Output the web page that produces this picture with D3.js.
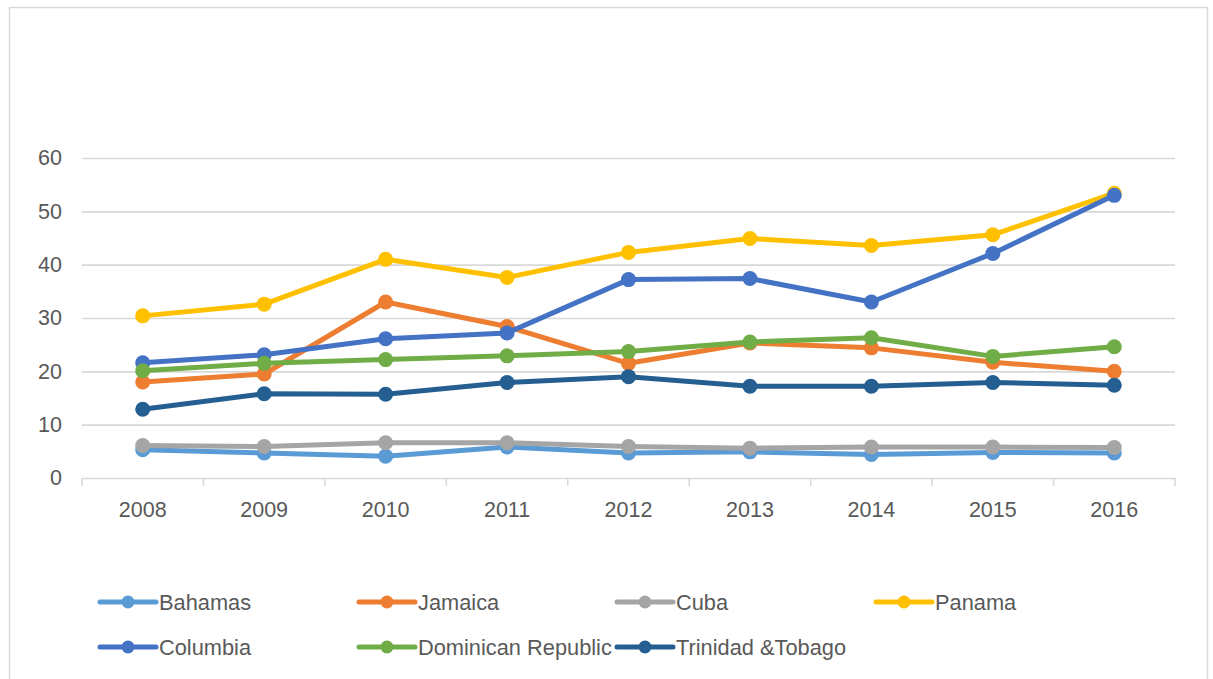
<!DOCTYPE html>
<html>
<head>
<meta charset="utf-8">
<script src="https://cdn.jsdelivr.net/npm/d3@7"></script>
<style>
  html, body { margin: 0; padding: 0; background: #fff; }
  svg { display: block; }
  text { font-family: "Liberation Sans", Arial, sans-serif; fill: #595959; }
</style>
</head>
<body>
<svg id="chart" width="1213" height="679"></svg>
<script>
// Years on the category axis
const years = ["2008", "2009", "2010", "2011", "2012", "2013", "2014", "2015", "2016"];
const yTicks = [0, 10, 20, 30, 40, 50, 60];

// Series names, in drawing order
const seriesNames = ["Bahamas", "Jamaica", "Cuba", "Panama", "Columbia", "Dominican Republic", "Trinidad &Tobago"];
const seriesColors = ["#5B9BD5", "#ED7D31", "#A5A5A5", "#FFC000", "#4472C4", "#70AD47", "#255E91"];

// Values per series, 2008–2016
const bahamas   = [5.3, 4.7, 4.1, 5.8, 4.7, 4.9, 4.4, 4.8, 4.7];
const jamaica   = [18.0, 19.5, 33.0, 28.4, 21.5, 25.3, 24.4, 21.7, 20.0];
const cuba      = [6.1, 5.9, 6.6, 6.6, 5.9, 5.6, 5.8, 5.8, 5.7];
const panama    = [30.4, 32.6, 41.0, 37.6, 42.3, 44.9, 43.6, 45.6, 53.4];
const columbia  = [21.6, 23.1, 26.1, 27.2, 37.2, 37.4, 33.0, 42.1, 53.0];
const dominican = [20.1, 21.5, 22.2, 22.9, 23.7, 25.5, 26.3, 22.8, 24.6];
const trinidad  = [12.9, 15.8, 15.7, 17.9, 19.0, 17.2, 17.2, 17.9, 17.4];

const seriesValues = [bahamas, jamaica, cuba, panama, columbia, dominican, trinidad];
const series = seriesNames.map((name, i) => ({
  name, color: seriesColors[i],
  points: years.map((yr, j) => ({ year: yr, value: seriesValues[i][j] }))
}));

const svg = d3.select("#chart");

// Outer chart frame
svg.append("rect")
  .attr("x", 9.5).attr("y", 7.5)
  .attr("width", 1198).attr("height", 690)
  .attr("fill", "none").attr("stroke", "#D9D9D9").attr("stroke-width", 1.5);

const plot = { left: 82, right: 1175, top: 158, bottom: 478 };

const x = d3.scaleBand().domain(years).range([plot.left, plot.right]).padding(0);
const y = d3.scaleLinear().domain([0, 60]).range([plot.bottom, plot.top]);

// Horizontal gridlines
const grid = svg.append("g")
  .attr("transform", `translate(${plot.left},0)`)
  .call(d3.axisLeft(y).tickValues(yTicks.filter(d => d > 0))
    .tickSize(-(plot.right - plot.left)).tickFormat(""));
grid.select(".domain").remove();
grid.selectAll("line").attr("stroke", "#D9D9D9").attr("stroke-width", 1.6);

// Value axis labels
const yAxis = svg.append("g")
  .attr("transform", `translate(62,0)`)
  .call(d3.axisLeft(y).tickValues(yTicks).tickSize(0).tickPadding(0));
yAxis.select(".domain").remove();
yAxis.selectAll("text")
  .attr("font-size", 21.5).attr("fill", "#595959")
  .attr("font-family", "Liberation Sans, Arial, sans-serif");

// Category axis line with boundary tick marks
const xAxis = svg.append("g")
  .attr("transform", `translate(0,${plot.bottom})`)
  .call(d3.axisBottom(x).tickSize(0).tickPadding(24));
xAxis.select(".domain").attr("stroke", "#D9D9D9").attr("stroke-width", 1.6);
xAxis.selectAll("text")
  .attr("font-size", 21.5).attr("fill", "#595959")
  .attr("font-family", "Liberation Sans, Arial, sans-serif");
const boundaries = years.map(d => x(d)).concat([x(years[years.length - 1]) + x.bandwidth()]);
svg.append("g").selectAll("line")
  .data(boundaries).join("line")
  .attr("x1", d => d).attr("x2", d => d)
  .attr("y1", plot.bottom).attr("y2", plot.bottom + 8)
  .attr("stroke", "#D9D9D9").attr("stroke-width", 1.6);

// Lines and markers
const cx = d => x(d.year) + x.bandwidth() / 2;
const line = d3.line().x(cx).y(d => y(d.value));

const seriesG = svg.append("g").selectAll("g").data(series).join("g");
seriesG.append("path")
  .attr("d", d => line(d.points))
  .attr("fill", "none")
  .attr("stroke", d => d.color)
  .attr("stroke-width", 5)
  .attr("stroke-linejoin", "round")
  .attr("stroke-linecap", "round");
seriesG.selectAll("circle")
  .data(d => d.points.map(p => ({ ...p, color: d.color })))
  .join("circle")
  .attr("cx", cx).attr("cy", d => y(d.value))
  .attr("r", 7.5)
  .attr("fill", d => d.color);

// Legend: four columns, two rows
const legendCols = [100, 359, 617, 876];
const legendRows = [602, 647];
const legend = svg.append("g").selectAll("g")
  .data(series).join("g")
  .attr("transform", (d, i) => `translate(${legendCols[i % 4]},${legendRows[Math.floor(i / 4)]})`);
legend.append("line")
  .attr("x1", 0).attr("x2", 56).attr("y1", 0).attr("y2", 0)
  .attr("stroke", d => d.color).attr("stroke-width", 5)
  .attr("stroke-linecap", "round");
legend.append("circle")
  .attr("cx", 28).attr("cy", 0).attr("r", 6.5)
  .attr("fill", d => d.color);
legend.append("text")
  .attr("x", 59).attr("y", 7.5)
  .attr("font-size", 21.8)
  .text(d => d.name);
</script>
</body>
</html>
